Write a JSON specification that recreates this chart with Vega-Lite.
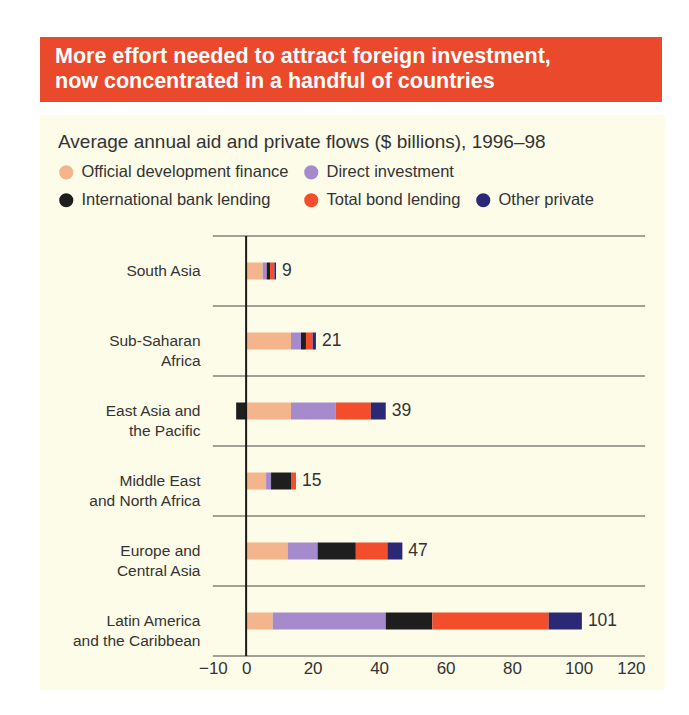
{
  "$schema": "https://vega.github.io/schema/vega-lite/v6.json",
  "background": "white",
  "padding": {"left": 40, "top": 37, "right": 0, "bottom": 0},
  "spacing": 13,
  "config": {"font": "Liberation Sans", "view": {"stroke": null}},
  "datasets": {
    "header": [
      {"line": 1, "text": "More effort needed to attract foreign investment,"},
      {"line": 2, "text": "now concentrated in a handful of countries"}
    ],
    "flows": [
      {"region": "South Asia", "source": "Official development finance", "k": 1, "value": 5},
      {"region": "South Asia", "source": "Direct investment", "k": 2, "value": 1.2},
      {"region": "South Asia", "source": "International bank lending", "k": 3, "value": 1},
      {"region": "South Asia", "source": "Total bond lending", "k": 4, "value": 1.3},
      {"region": "South Asia", "source": "Other private", "k": 5, "value": 0.5},
      {"region": "Sub-Saharan Africa", "source": "Official development finance", "k": 1, "value": 13.5},
      {"region": "Sub-Saharan Africa", "source": "Direct investment", "k": 2, "value": 3},
      {"region": "Sub-Saharan Africa", "source": "International bank lending", "k": 3, "value": 1.5},
      {"region": "Sub-Saharan Africa", "source": "Total bond lending", "k": 4, "value": 2},
      {"region": "Sub-Saharan Africa", "source": "Other private", "k": 5, "value": 1},
      {"region": "East Asia and the Pacific", "source": "Official development finance", "k": 1, "value": 13.5},
      {"region": "East Asia and the Pacific", "source": "Direct investment", "k": 2, "value": 13.5},
      {"region": "East Asia and the Pacific", "source": "International bank lending", "k": 3, "value": -3},
      {"region": "East Asia and the Pacific", "source": "Total bond lending", "k": 4, "value": 10.5},
      {"region": "East Asia and the Pacific", "source": "Other private", "k": 5, "value": 4.5},
      {"region": "Middle East and North Africa", "source": "Official development finance", "k": 1, "value": 6},
      {"region": "Middle East and North Africa", "source": "Direct investment", "k": 2, "value": 1.5},
      {"region": "Middle East and North Africa", "source": "International bank lending", "k": 3, "value": 6},
      {"region": "Middle East and North Africa", "source": "Total bond lending", "k": 4, "value": 1.5},
      {"region": "Europe and Central Asia", "source": "Official development finance", "k": 1, "value": 12.5},
      {"region": "Europe and Central Asia", "source": "Direct investment", "k": 2, "value": 9},
      {"region": "Europe and Central Asia", "source": "International bank lending", "k": 3, "value": 11.5},
      {"region": "Europe and Central Asia", "source": "Total bond lending", "k": 4, "value": 9.5},
      {"region": "Europe and Central Asia", "source": "Other private", "k": 5, "value": 4.5},
      {"region": "Latin America and the Caribbean", "source": "Official development finance", "k": 1, "value": 8},
      {"region": "Latin America and the Caribbean", "source": "Direct investment", "k": 2, "value": 34},
      {"region": "Latin America and the Caribbean", "source": "International bank lending", "k": 3, "value": 14},
      {"region": "Latin America and the Caribbean", "source": "Total bond lending", "k": 4, "value": 35},
      {"region": "Latin America and the Caribbean", "source": "Other private", "k": 5, "value": 10}
    ]
  },
  "vconcat": [
    {
      "width": 622,
      "height": 65,
      "view": {"fill": "#ea4a2b", "stroke": null},
      "data": {"name": "header"},
      "mark": {"type": "text", "align": "left", "baseline": "middle", "dx": 15, "font": "Liberation Sans", "fontWeight": "bold", "fontSize": 21.5, "color": "#ffffff"},
      "encoding": {
        "x": {"datum": 0, "type": "quantitative", "scale": {"domain": [0, 1]}, "axis": null},
        "y": {"field": "line", "type": "ordinal", "scale": {"type": "point", "padding": 0.8}, "axis": null},
        "text": {"field": "text"}
      }
    },
    {
      "width": 625,
      "height": 575,
      "view": {"fill": "#fdfce9", "stroke": null},
      "data": {"name": "flows"},
      "layer": [
        {
          "transform": [{"aggregate": [{"op": "count", "as": "n"}], "groupby": ["region"]}],
          "mark": {"type": "rule", "color": "#85837a", "strokeWidth": 1.5},
          "encoding": {
            "y": {"field": "region", "type": "nominal", "bandPosition": 0, "title": null,
                  "sort": ["South Asia", "Sub-Saharan Africa", "East Asia and the Pacific", "Middle East and North Africa", "Europe and Central Asia", "Latin America and the Caribbean"],
                  "scale": {"range": [121, 541], "paddingInner": 0, "paddingOuter": 0}},
            "x": {"datum": -10, "type": "quantitative", "scale": {"domain": [-62, 126], "nice": false, "zero": false}},
            "x2": {"datum": 120}
          }
        },
        {
          "transform": [
            {"filter": "datum.region == 'Latin America and the Caribbean'"},
            {"aggregate": [{"op": "count", "as": "n"}], "groupby": ["region"]}
          ],
          "mark": {"type": "rule", "color": "#85837a", "strokeWidth": 1.5},
          "encoding": {
            "y": {"field": "region", "type": "nominal", "bandPosition": 1, "title": null,
                  "sort": ["South Asia", "Sub-Saharan Africa", "East Asia and the Pacific", "Middle East and North Africa", "Europe and Central Asia", "Latin America and the Caribbean"],
                  "scale": {"range": [121, 541], "paddingInner": 0, "paddingOuter": 0}},
            "x": {"datum": -10, "type": "quantitative", "scale": {"domain": [-62, 126], "nice": false, "zero": false}},
            "x2": {"datum": 120}
          }
        },
        {
          "mark": {"type": "bar", "height": {"band": 0.243}},
          "encoding": {
            "y": {"field": "region", "type": "nominal", "title": null,
                  "sort": ["South Asia", "Sub-Saharan Africa", "East Asia and the Pacific", "Middle East and North Africa", "Europe and Central Asia", "Latin America and the Caribbean"],
                  "scale": {"range": [121, 541], "paddingInner": 0, "paddingOuter": 0},
                  "axis": {"orient": "left", "offset": -166, "domain": false, "ticks": false, "grid": false, "labelPadding": 6, "labelFontSize": 15.5, "labelColor": "#333333", "labelLineHeight": 20, "labelLimit": 200,
                           "labelExpr": "datum.value == 'Sub-Saharan Africa' ? ['Sub-Saharan', 'Africa'] : datum.value == 'East Asia and the Pacific' ? ['East Asia and', 'the Pacific'] : datum.value == 'Middle East and North Africa' ? ['Middle East', 'and North Africa'] : datum.value == 'Europe and Central Asia' ? ['Europe and', 'Central Asia'] : datum.value == 'Latin America and the Caribbean' ? ['Latin America', 'and the Caribbean'] : datum.label"}},
            "x": {"field": "value", "type": "quantitative", "stack": "zero", "title": null,
                  "scale": {"domain": [-62, 126], "nice": false, "zero": false},
                  "axis": {"orient": "bottom", "offset": -34, "values": [-10, 0, 20, 40, 60, 80, 100, 120], "domain": false, "ticks": false, "grid": false, "labelPadding": 4, "labelFontSize": 17, "labelColor": "#333333",
                           "labelAlign": {"condition": {"test": "datum.value == 120", "value": "right"}, "value": "center"}}},
            "color": {"field": "source", "type": "nominal",
                      "scale": {"domain": ["Official development finance", "Direct investment", " ", "International bank lending", "Total bond lending", "Other private"],
                                "range": ["#f4b48c", "#a68bcc", "transparent", "#1e1e1e", "#f24e2c", "#2b2876"]},
                      "legend": {"orient": "none", "legendX": 18, "legendY": 96, "columns": 3, "direction": "horizontal", "padding": 0,
                                 "title": "Average annual aid and private flows ($ billions), 1996–98", "titleFontSize": 19, "titleFontWeight": "normal", "titleColor": "#333333", "titleLimit": 600, "titlePadding": 12,
                                 "labelFontSize": 16.5, "labelColor": "#333333", "labelLimit": 300, "labelOffset": 7,
                                 "symbolType": "circle", "symbolSize": 200, "symbolStrokeWidth": 0, "symbolOpacity": 1,
                                 "rowPadding": 11, "columnPadding": 14}},
            "order": {"field": "k", "type": "quantitative"}
          }
        },
        {
          "transform": [{"aggregate": [{"op": "count", "as": "n"}], "groupby": ["region"]}],
          "mark": {"type": "bar", "color": "#1a1a1a", "height": {"band": 1}},
          "encoding": {
            "y": {"field": "region", "type": "nominal", "title": null,
                  "sort": ["South Asia", "Sub-Saharan Africa", "East Asia and the Pacific", "Middle East and North Africa", "Europe and Central Asia", "Latin America and the Caribbean"],
                  "scale": {"range": [121, 541], "paddingInner": 0, "paddingOuter": 0}},
            "x": {"datum": -0.3, "type": "quantitative", "scale": {"domain": [-62, 126], "nice": false, "zero": false}},
            "x2": {"datum": 0.3}
          }
        },
        {
          "transform": [
            {"joinaggregate": [{"op": "sum", "field": "value", "as": "total"}], "groupby": ["region"]},
            {"filter": "datum.value > 0"},
            {"aggregate": [{"op": "sum", "field": "value", "as": "posEnd"}, {"op": "max", "field": "total", "as": "total"}], "groupby": ["region"]}
          ],
          "mark": {"type": "text", "align": "left", "baseline": "middle", "dx": 6, "fontSize": 17.5, "color": "#333333"},
          "encoding": {
            "y": {"field": "region", "type": "nominal", "title": null,
                  "sort": ["South Asia", "Sub-Saharan Africa", "East Asia and the Pacific", "Middle East and North Africa", "Europe and Central Asia", "Latin America and the Caribbean"],
                  "scale": {"range": [121, 541], "paddingInner": 0, "paddingOuter": 0}},
            "x": {"field": "posEnd", "type": "quantitative", "title": null, "scale": {"domain": [-62, 126], "nice": false, "zero": false}},
            "text": {"field": "total", "type": "quantitative", "format": ".0f"}
          }
        }
      ]
    }
  ]
}
